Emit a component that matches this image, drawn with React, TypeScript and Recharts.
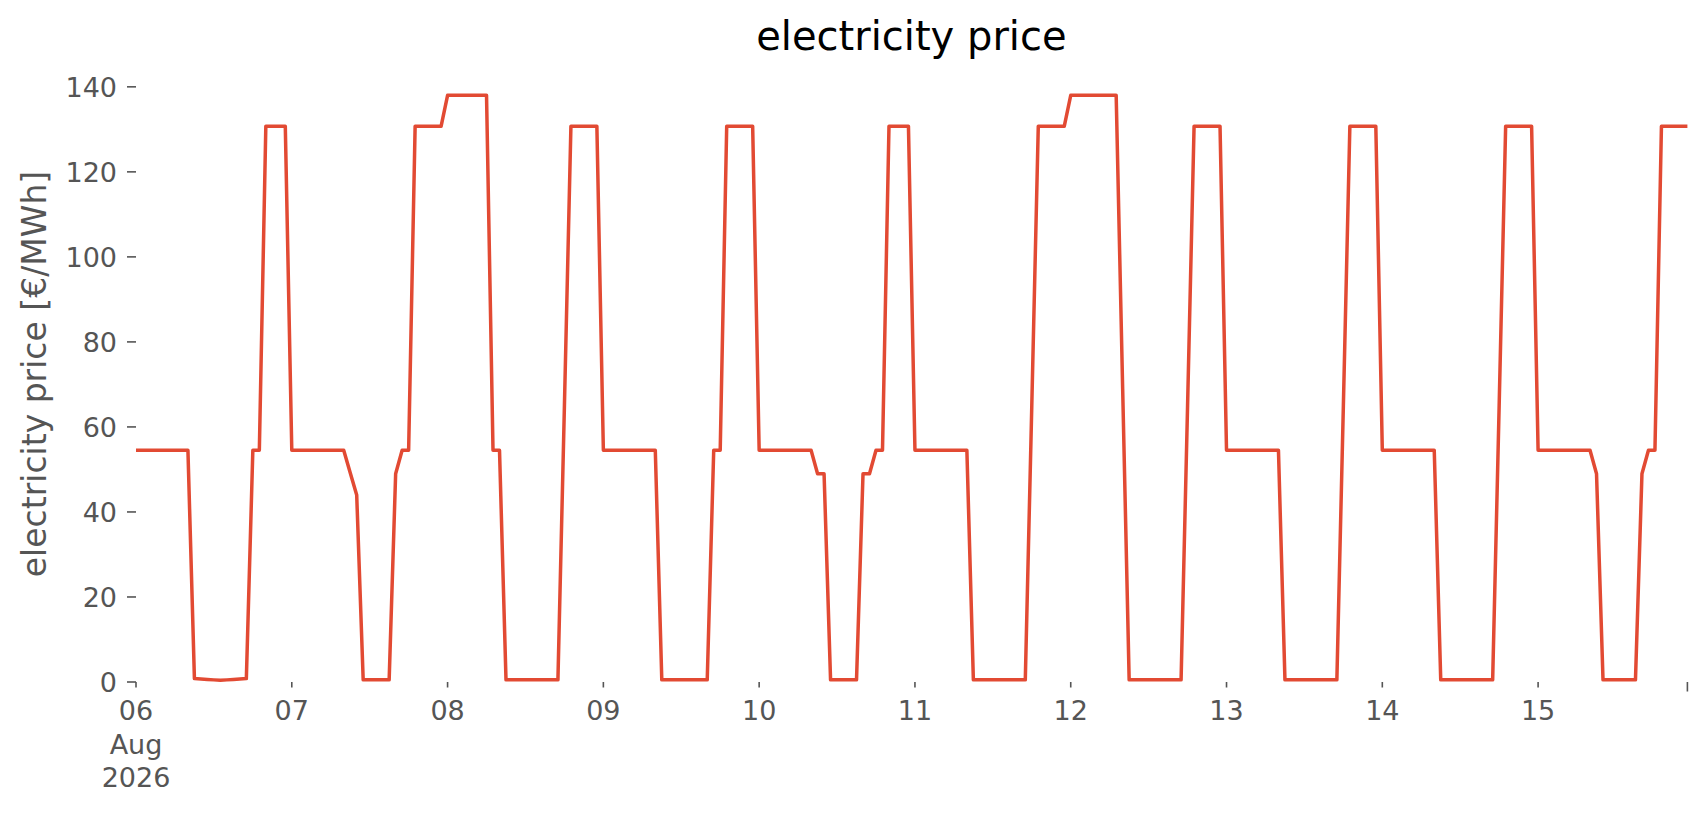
import { LineChart, Line, XAxis, YAxis } from "recharts";

// Hourly electricity price, 06 Aug 2026 00:00 … 15 Aug 2026 23:00, one array per day.
const day06 = [
  54.5, 54.5, 54.5, 54.5, 54.5, 54.5, 54.5, 54.5, 54.5,
  0.8, 0.7, 0.6, 0.5, 0.4, 0.5, 0.6, 0.7, 0.8,
  54.5, 54.5, 130.7, 130.7, 130.7, 130.7,
];
const day07 = [
  54.5, 54.5, 54.5, 54.5, 54.5, 54.5, 54.5, 54.5, 54.5,
  49.2, 44.0, 0.5, 0.5, 0.5, 0.5, 0.5,
  49.0, 54.5, 54.5, 130.7, 130.7, 130.7, 130.7, 130.7,
];
const day08 = [
  138, 138, 138, 138, 138, 138, 138, 54.5, 54.5,
  0.5, 0.5, 0.5, 0.5, 0.5, 0.5, 0.5, 0.5, 0.5,
  65, 130.7, 130.7, 130.7, 130.7, 130.7,
];
const day09 = [
  54.5, 54.5, 54.5, 54.5, 54.5, 54.5, 54.5, 54.5, 54.5,
  0.5, 0.5, 0.5, 0.5, 0.5, 0.5, 0.5, 0.5,
  54.5, 54.5, 130.7, 130.7, 130.7, 130.7, 130.7,
];
const day10 = [
  54.5, 54.5, 54.5, 54.5, 54.5, 54.5, 54.5, 54.5, 54.5,
  49.0, 49.0, 0.5, 0.5, 0.5, 0.5, 0.5,
  49.0, 49.0, 54.5, 54.5, 130.7, 130.7, 130.7, 130.7,
];
const day11 = [
  54.5, 54.5, 54.5, 54.5, 54.5, 54.5, 54.5, 54.5, 54.5,
  0.5, 0.5, 0.5, 0.5, 0.5, 0.5, 0.5, 0.5, 0.5,
  65, 130.7, 130.7, 130.7, 130.7, 130.7,
];
const day12 = [
  138, 138, 138, 138, 138, 138, 138, 138, 69,
  0.5, 0.5, 0.5, 0.5, 0.5, 0.5, 0.5, 0.5, 0.5,
  65, 130.7, 130.7, 130.7, 130.7, 130.7,
];
const day13 = [
  54.5, 54.5, 54.5, 54.5, 54.5, 54.5, 54.5, 54.5, 54.5,
  0.5, 0.5, 0.5, 0.5, 0.5, 0.5, 0.5, 0.5, 0.5,
  65, 130.7, 130.7, 130.7, 130.7, 130.7,
];
const day14 = [
  54.5, 54.5, 54.5, 54.5, 54.5, 54.5, 54.5, 54.5, 54.5,
  0.5, 0.5, 0.5, 0.5, 0.5, 0.5, 0.5, 0.5, 0.5,
  65, 130.7, 130.7, 130.7, 130.7, 130.7,
];
const day15 = [
  54.5, 54.5, 54.5, 54.5, 54.5, 54.5, 54.5, 54.5, 54.5,
  49.0, 0.5, 0.5, 0.5, 0.5, 0.5, 0.5,
  49.0, 54.5, 54.5, 130.7, 130.7, 130.7, 130.7, 130.7,
];

const days = [day06, day07, day08, day09, day10, day11, day12, day13, day14, day15];
const dayLabels = ["06", "07", "08", "09", "10", "11", "12", "13", "14", "15"];
const monthLabel = "Aug";
const yearLabel = "2026";
const yTicks = [0, 20, 40, 60, 80, 100, 120, 140];

const prices = days.flat();
const LAST_HOUR = prices.length - 1;
const data = prices.map((price, h) => ({ h, price }));
const xTicks = [...dayLabels.map((_d, i) => i * 24), LAST_HOUR];

const FONT = "'DejaVu Sans', sans-serif";
const GREY = "#555555";
const RED = "#E24A33";

function DateTick({ x, y, payload }: any) {
  const h = payload.value as number;
  const isEnd = h === LAST_HOUR;
  const idx = Math.round(h / 24);
  return (
    <g>
      <line x1={x} x2={x} y1={y} y2={y + (isEnd ? 9.5 : 5.5)} stroke={GREY} strokeWidth={1.6} />
      {!isEnd && (
        <text x={x} y={720} textAnchor="middle" fill={GREY} fontSize={27} fontFamily={FONT}>
          {dayLabels[idx]}
        </text>
      )}
      {idx === 0 && (
        <>
          <text x={x} y={754} textAnchor="middle" fill={GREY} fontSize={27} fontFamily={FONT}>
            {monthLabel}
          </text>
          <text x={x} y={787} textAnchor="middle" fill={GREY} fontSize={27} fontFamily={FONT}>
            {yearLabel}
          </text>
        </>
      )}
    </g>
  );
}

function PriceTick({ x, y, payload }: any) {
  return (
    <g>
      <line x1={x - 9} x2={x} y1={y} y2={y} stroke={GREY} strokeWidth={1.6} />
      <text
        x={x - 19}
        y={y}
        dy="0.36em"
        textAnchor="end"
        fill={GREY}
        fontSize={27}
        fontFamily={FONT}
      >
        {payload.value}
      </text>
    </g>
  );
}

export default function App() {
  return (
    <div style={{ position: "relative", width: 1706, height: 815, background: "#fff" }}>
      <style>{"body{margin:0}"}</style>
      <LineChart width={1706} height={815} data={data} margin={{ top: 66, right: 18.6, bottom: 0, left: 0 }}>
        <XAxis
          dataKey="h"
          type="number"
          domain={[0, LAST_HOUR]}
          ticks={xTicks}
          interval={0}
          axisLine={false}
          tickLine={false}
          tickSize={0}
          tickMargin={0}
          height={133}
          tick={<DateTick />}
        />
        <YAxis
          type="number"
          domain={[0, 144.9]}
          ticks={yTicks}
          interval={0}
          axisLine={false}
          tickLine={false}
          tickSize={0}
          tickMargin={0}
          width={136}
          tick={<PriceTick />}
        />
        <Line
          type="linear"
          dataKey="price"
          stroke={RED}
          strokeWidth={3.5}
          strokeLinejoin="round"
          dot={false}
          activeDot={false}
          isAnimationActive={false}
        />
      </LineChart>
      <svg
        width={1706}
        height={815}
        style={{ position: "absolute", left: 0, top: 0, pointerEvents: "none" }}
      >
        <text x={911.4} y={50} textAnchor="middle" fontSize={40} fontFamily={FONT} fill="#000">
          electricity price
        </text>
        <text
          transform="translate(46,374) rotate(-90)"
          textAnchor="middle"
          fontSize={33}
          fontFamily={FONT}
          fill={GREY}
        >
          electricity price [€/MWh]
        </text>
      </svg>
    </div>
  );
}
